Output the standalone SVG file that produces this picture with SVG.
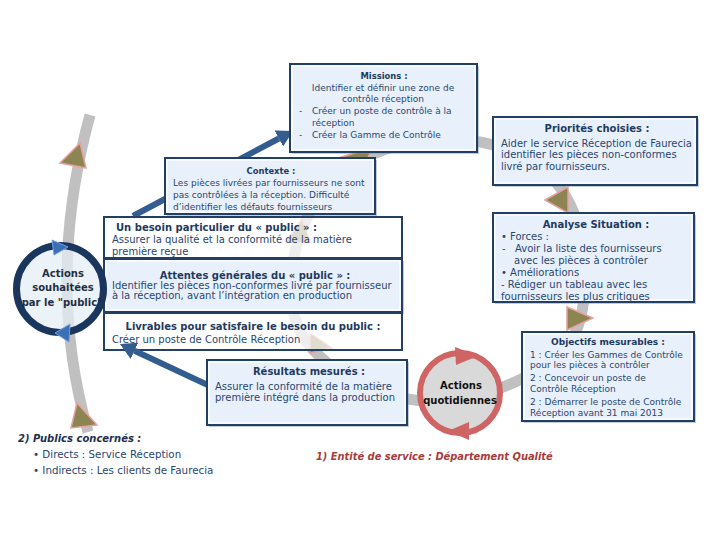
<svg xmlns="http://www.w3.org/2000/svg" width="720" height="540" viewBox="0 0 720 540">
<style>
.band{fill:none;stroke:#c0c0c0;stroke-width:11}
.tri{fill:#8c8552;stroke:#e8a0a0;stroke-width:1.5}
.box{fill:#e8f1fb;stroke:#223f66;stroke-width:2}
.wbox{fill:#ffffff;fill-opacity:.72;stroke:#223f66;stroke-width:2}
.in{fill:none;stroke:#ffffff;stroke-width:1.2}
.sh{fill:#7d8ea3;opacity:.45}
text{font-family:"DejaVu Sans",Verdana,sans-serif;fill:#2a4670}
.b{font-weight:bold;fill:#1f3a5f}
.c{text-anchor:middle}
.s84{font-size:8.4px}
.s9{font-size:9px}
.s10{font-size:10px}
.barrow{stroke:#335c8f;stroke-width:6;fill:none}
</style>
<defs>
<marker id="ah" viewBox="0 0 16 18" markerWidth="16" markerHeight="18" refX="0" refY="9" orient="auto" markerUnits="userSpaceOnUse">
<path d="M0,0 L16,9 L0,18 z" fill="#335c8f"/>
</marker>
</defs>
<rect width="720" height="540" fill="#ffffff"/>

<g id="bands">
<path class="band" d="M90 115 Q45 280 88 432"/>
<path class="band" d="M462 400 C400 408 340 385 305 340 C280 300 290 240 320 195 C360 140 460 120 530 160 C580 190 595 260 580 320 C570 360 520 385 462 400 Z"/>
<polygon class="tri" points="80,143 60,163 86,168"/>
<polygon class="tri" points="77,403 97,425 71,428"/>
<polygon class="tri" points="302,219 286,242 311,243"/>
<polygon class="tri" points="310,333 332,348 310,353"/>
<polygon class="tri" points="338,158 372,148 362,172"/>
<polygon class="tri" points="568,187 545,200 568,213"/>
<polygon class="tri" points="567,307 593,318 567,330"/>
</g>

<g id="connectors">
<path class="barrow" d="M133 216 L278.9 138.5" marker-end="url(#ah)"/>
</g>

<g id="besoin">
<rect class="wbox" x="104" y="217" width="298" height="41"/>
<text class="b s10" x="116" y="231">Un besoin particulier du « public » :</text>
<text class="s10" x="112" y="243">Assurer la qualité et la conformité de la matière</text>
<text class="s10" x="112" y="255">première reçue</text>
</g>

<g id="attentes">
<rect class="sh" x="106" y="261" width="298" height="53"/>
<rect class="box" x="104" y="259" width="298" height="53"/>
<rect class="in" x="106" y="261" width="294" height="49"/>
<text class="b s10 c" x="255" y="279">Attentes générales du « public » :</text>
<text class="s10" x="112" y="289">Identifier les pièces non-conformes livré par fournisseur</text>
<text class="s10" x="112" y="299">à la réception, avant l’intégration en production</text>
</g>

<g id="livrables">
<rect class="wbox" x="104" y="313" width="298" height="37"/>
<text class="b s10 c" x="253" y="330">Livrables pour satisfaire le besoin du public :</text>
<text class="s10" x="112" y="343">Créer un poste de Contrôle Réception</text>
</g>

<g id="connectors2">
<path class="barrow" d="M212 387 L134.5 350.8" marker-end="url(#ah)"/>
</g>

<g id="contexte">
<rect class="sh" x="167" y="160" width="210" height="56"/>
<rect class="box" x="165" y="158" width="210" height="56"/>
<rect class="in" x="167" y="160" width="206" height="52"/>
<text class="b s84 c" x="271" y="174">Contexte :</text>
<text class="s9" x="173" y="186">Les pièces livrées par fournisseurs ne sont</text>
<text class="s9" x="173" y="198">pas contrôlées à la réception. Difficulté</text>
<text class="s9" x="173" y="210">d’identifier les défauts fournisseurs</text>
</g>

<g id="missions">
<rect class="sh" x="292" y="66" width="187" height="88"/>
<rect class="box" x="290" y="64" width="187" height="88"/>
<rect class="in" x="292" y="66" width="183" height="84"/>
<text class="b s84 c" x="384" y="79">Missions :</text>
<text class="s9 c" x="383" y="91">Identifier et définir une zone de</text>
<text class="s9 c" x="383" y="102">contrôle réception</text>
<text class="s9" x="299" y="114">-</text>
<text class="s9" x="312" y="114">Créer un poste de contrôle à la</text>
<text class="s9" x="312" y="126">réception</text>
<text class="s9" x="299" y="138">-</text>
<text class="s9" x="312" y="138">Créer la Gamme de Contrôle</text>
</g>

<g id="priorites">
<rect class="sh" x="495" y="119" width="204" height="68"/>
<rect class="box" x="493" y="117" width="204" height="68"/>
<rect class="in" x="495" y="119" width="200" height="64"/>
<text class="b s10 c" x="597" y="132">Priorités choisies :</text>
<text class="s10" x="501" y="147">Aider le service Réception de Faurecia</text>
<text class="s10" x="501" y="158">identifier les pièces non-conformes</text>
<text class="s10" x="501" y="170">livré par fournisseurs.</text>
</g>

<g id="analyse">
<rect class="sh" x="495" y="215" width="201" height="89"/>
<rect class="box" x="493" y="213" width="201" height="89"/>
<rect class="in" x="495" y="215" width="197" height="85"/>
<text class="b s10 c" x="596" y="228">Analyse Situation :</text>
<text class="s10" x="501" y="240">• Forces :</text>
<text class="s10" x="502" y="252">-</text>
<text class="s10" x="515" y="252">Avoir la liste des fournisseurs</text>
<text class="s10" x="514" y="264">avec les pièces à contrôler</text>
<text class="s10" x="501" y="276">• Améliorations</text>
<text class="s10" x="501" y="288">- Rédiger un tableau avec les</text>
<text class="s10" x="501" y="300">fournisseurs les plus critiques</text>
</g>

<g id="objectifs">
<rect class="sh" x="524" y="334" width="172" height="89"/>
<rect class="box" x="522" y="332" width="172" height="89"/>
<rect class="in" x="524" y="334" width="168" height="85"/>
<text class="b s9 c" x="608" y="345">Objectifs mesurables :</text>
<text class="s9" x="530" y="358">1 : Créer les Gammes de Contrôle</text>
<text class="s9" x="530" y="368">pour les pièces à contrôler</text>
<text class="s9" x="530" y="381">2 : Concevoir un poste de</text>
<text class="s9" x="530" y="392">Contrôle Réception</text>
<text class="s9" x="530" y="405">2 : Démarrer le poste de Contrôle</text>
<text class="s9" x="530" y="416">Réception avant 31 mai 2013</text>
</g>

<g id="resultats">
<rect class="sh" x="209" y="362" width="200" height="65"/>
<rect class="box" x="207" y="360" width="200" height="65"/>
<rect class="in" x="209" y="362" width="196" height="61"/>
<text class="b s10 c" x="309" y="375">Résultats mesurés :</text>
<text class="s10" x="215" y="390">Assurer la conformité de la matière</text>
<text class="s10" x="215" y="401">première intégré dans la production</text>
</g>

<g id="souhaitees">
<circle cx="60" cy="289" r="43.5" fill="#e4eff5" fill-opacity=".75" stroke="#1b365d" stroke-width="7"/>
<polygon points="52,240 68,247 54,255" fill="#3b6fb6" stroke="#6fa0e0" stroke-width="1"/>
<polygon points="70,324 55,333 69,342" fill="#3b6fb6" stroke="#6fa0e0" stroke-width="1"/>
<text class="b s10 c" x="63" y="277" style="fill:#1f2f44">Actions</text>
<text class="b s10 c" x="63" y="291" style="fill:#1f2f44">souhaitées</text>
<text class="b s10 c" x="62" y="306" style="fill:#1f2f44">par le "public"</text>
</g>

<g id="quotidiennes">
<circle cx="460" cy="393" r="40" fill="#d9d9d9" stroke="#cf6464" stroke-width="6"/>
<polygon points="455,347 478,356 456,365" fill="#cf6464"/>
<polygon points="448,431 469,422 469,440" fill="#cf6464"/>
<text class="b s10 c" x="461" y="389" style="fill:#111">Actions</text>
<text class="b s10 c" x="460" y="404" style="fill:#111">quotidiennes</text>
</g>

<g id="publics">
<text class="b" x="18" y="442" style="font-size:10px;font-style:italic;fill:#1f2f50">2) Publics concernés :</text>
<text x="33" y="458" style="font-size:10.3px">• Directs : Service Réception</text>
<text x="33" y="474" style="font-size:10.3px">• Indirects : Les clients de Faurecia</text>
</g>

<g id="entite">
<text class="b" x="316" y="460" style="font-size:9.9px;font-style:italic;fill:#a83c3c">1) Entité de service : Département Qualité</text>
</g>
</svg>
